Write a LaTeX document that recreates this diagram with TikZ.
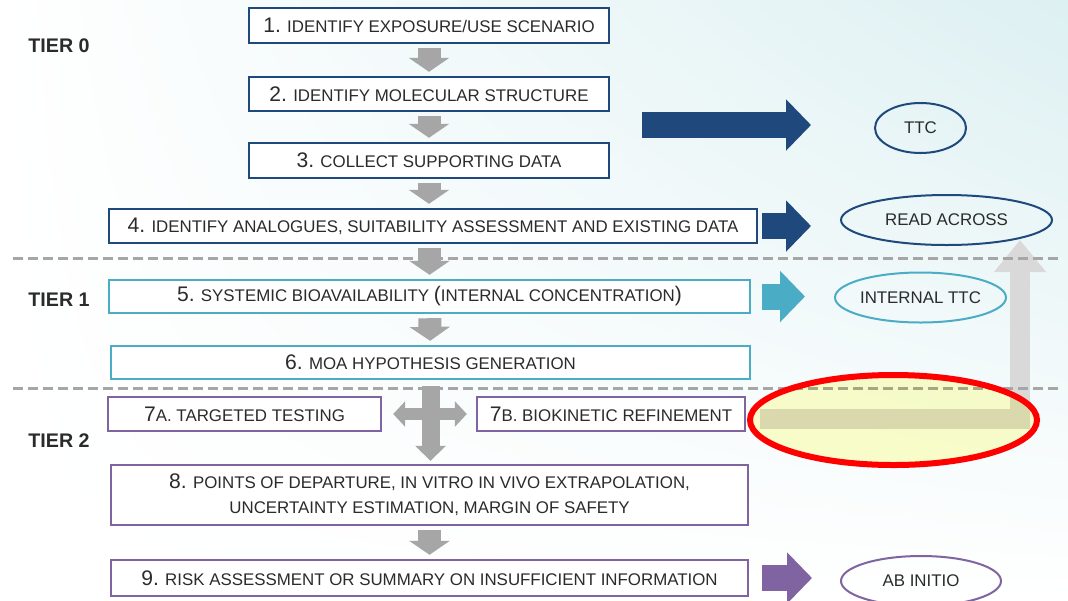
\documentclass[tikz,border=0pt]{standalone}
\usepackage{fontspec}
\setmainfont{Liberation Sans}
\usepackage{tikz}
\usetikzlibrary{arrows.meta, shapes.geometric, shadings}
\definecolor{tierblue}{HTML}{1F497D}
\definecolor{tierteal}{HTML}{4BACC6}
\definecolor{tierpurple}{HTML}{8064A2}
\definecolor{arrowgray}{HTML}{A6A6A6}
\definecolor{liftgray}{HTML}{D9D9D9}
\definecolor{txtgray}{HTML}{2B2B2B}
\definecolor{hlfill}{HTML}{FFFFCC}
\definecolor{bgcyan}{HTML}{DDF0F2}
\newcommand{\stepno}[1]{{\fontsize{15}{17}\selectfont #1}}
\tikzset{
  stepbox/.style={draw, line width=0.6mm, fill=white, inner sep=0pt, minimum height=8.5mm,
    text=txtgray, font=\fontsize{12}{17.5}\selectfont, align=center},
  t0box/.style={stepbox, draw=tierblue},
  t1box/.style={stepbox, draw=tierteal},
  t2box/.style={stepbox, draw=tierpurple},
  outcome/.style={ellipse, draw, line width=0.5mm, inner sep=0pt, minimum height=12.5mm,
    text=txtgray, font=\fontsize{12}{14}\selectfont},
  tierlabel/.style={text=txtgray, font=\bfseries\fontsize{14}{16}\selectfont},
  tierline/.style={draw=arrowgray, line width=0.75mm, dash pattern=on 2.5mm off 1.25mm},
  flow/.style={draw=arrowgray, line width=5.75mm, -{Triangle[length=3.5mm,width=10mm]},
    shorten <=1mm, shorten >=1mm},
  crossv/.style={draw=arrowgray, line width=4.5mm, -{Triangle[length=3.75mm,width=7.5mm]},
    shorten <=1.5mm, shorten >=0.75mm},
  crossh/.style={draw=arrowgray, line width=3mm,
    {Triangle[length=3mm,width=6.25mm]}-{Triangle[length=3mm,width=6.25mm]},
    shorten <=2.75mm, shorten >=2.25mm},
  bigarrow/.style={line width=6.5mm, -{Triangle[length=6.25mm,width=12.5mm]}},
  liftarrow/.style={draw=liftgray, line width=5mm, line join=miter,
    -{Triangle[length=8mm,width=12.5mm]}},
}

\begin{document}
\begin{tikzpicture}[x=0.25mm, y=-0.25mm]
\useasboundingbox (0,0) rectangle (1068,600);
\shade[upper left=white, upper right=bgcyan, lower left=white, lower right=white] (0,0) rectangle (1068,600);

\node[tierlabel] (T0) at (59,46) {TIER 0};
\node[tierlabel] (T1) at (59,300) {TIER 1};
\node[tierlabel] (T2) at (59,441) {TIER 2};

\coordinate (liftfrom) at (760,418.5);
\coordinate (liftto) at (1020,240);
\draw[liftarrow] (liftfrom) -| (liftto);

\draw[tierline] (13,258) -- (1060,258);
\draw[tierline] (13,388) -- (1060,388);

\node[t0box, minimum width=90mm, minimum height=8.75mm] (S1) at (429,25.5) {\stepno{1.} IDENTIFY EXPOSURE/USE SCENARIO};
\node[t0box, minimum width=90mm] (S2) at (429,94) {\stepno{2.} IDENTIFY MOLECULAR STRUCTURE};
\node[t0box, minimum width=90mm, minimum height=8.75mm] (S3) at (429,160.5) {\stepno{3.} COLLECT SUPPORTING DATA};
\node[t0box, minimum width=162mm] (S4) at (433,226) {\stepno{4.} IDENTIFY ANALOGUES, SUITABILITY ASSESSMENT AND EXISTING DATA};
\node[t1box, minimum width=160.25mm, minimum height=8.25mm] (S5) at (429.5,296.5) {\stepno{5.} SYSTEMIC BIOAVAILABILITY \stepno{(}INTERNAL CONCENTRATION\stepno{)}};
\node[t1box, minimum width=159.75mm, minimum height=8.25mm] (S6) at (430.5,362.5) {\stepno{6.} MOA HYPOTHESIS GENERATION};
\node[t2box, minimum width=68.25mm] (S7A) at (244.5,414) {\stepno{7}A. TARGETED TESTING};
\node[t2box, minimum width=67mm] (S7B) at (611,414) {\stepno{7}B. BIOKINETIC REFINEMENT};
\node[t2box, minimum width=159.25mm, minimum height=15mm] (S8) at (429.5,495) {\stepno{8.} POINTS OF DEPARTURE, IN VITRO IN VIVO EXTRAPOLATION,\\UNCERTAINTY ESTIMATION, MARGIN OF SAFETY};
\node[t2box, minimum width=159.25mm, minimum height=9mm] (S9) at (429.5,578) {\stepno{9.} RISK ASSESSMENT OR SUMMARY ON INSUFFICIENT INFORMATION};

\node[outcome, draw=tierblue, minimum width=22.75mm] (TTC) at (920.5,128) {TTC};
\node[outcome, draw=tierblue, minimum width=52.75mm] (RA) at (946.5,220) {READ ACROSS};
\node[outcome, draw=tierteal, minimum width=39.75mm] (ITTC) at (920.5,297.5) {INTERNAL TTC};
\node[outcome, draw=tierpurple, minimum width=40mm] (ABI) at (921,581) {AB INITIO};

\draw[flow] (S1) -- (S2);
\draw[flow] (S2) -- (S3);
\draw[flow] (S3.south) -- (S3.south |- S4.north);
\draw[flow] (S5.north |- S4.south) -- (S5.north);
\draw[flow] (S5) -- (S6);
\draw[crossv] (S6.south) -- (S6.south |- S8.north);
\draw[crossh] (S7A) -- (S7B);
\draw[flow] (S8) -- (S9);

\coordinate (TTCfrom) at (642,125);
\draw[bigarrow, tierblue, shorten >=15.75mm] (TTCfrom) -- (TTCfrom -| TTC.west);
\draw[bigarrow, tierblue, shorten <=1mm, shorten >=7.25mm] (S4.east) -- (S4.east -| RA.west);
\draw[bigarrow, tierteal, shorten <=2.75mm, shorten >=7.25mm] (S5.east) -- (S5.east -| ITTC.west);
\draw[bigarrow, tierpurple, shorten <=3.25mm, shorten >=7mm] (S9.east) -- (S9.east -| ABI.west);

\begin{scope}[blend mode=multiply]
\node[ellipse, fill=hlfill, inner sep=0pt, minimum width=71.75mm, minimum height=22.5mm] (HL) at (893.5,420) {};
\end{scope}
\node[ellipse, draw=red, line width=1.5mm, inner sep=0pt, minimum width=71.75mm, minimum height=22.5mm] (HLring) at (HL) {};
\end{tikzpicture}
\end{document}
